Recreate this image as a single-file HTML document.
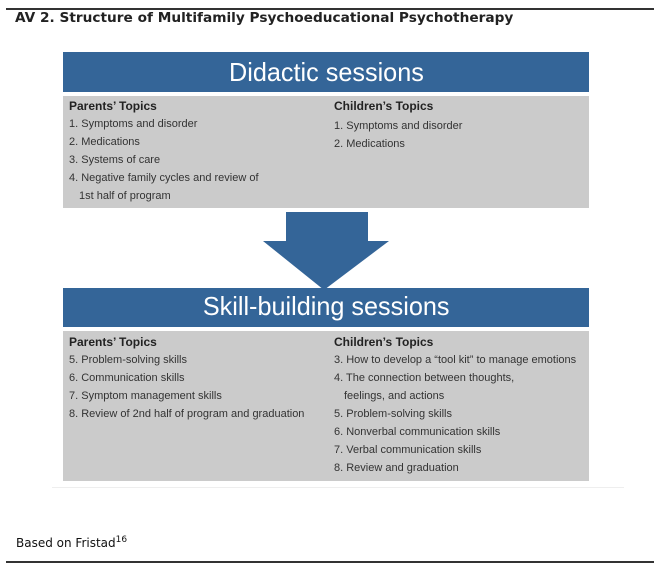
<!DOCTYPE html>
<html><head><meta charset="utf-8"><style>
*{margin:0;padding:0;box-sizing:border-box}
body{width:660px;height:574px;background:#fff;position:relative;overflow:hidden;font-family:"Liberation Sans",sans-serif}
.abs{position:absolute}
.line{position:absolute;left:6px;width:648px;height:2px;background:#333}
.title{left:15px;top:10px;font-family:"DejaVu Sans",sans-serif;font-weight:bold;font-size:13.7px;color:#222;white-space:nowrap}
.hdr{left:63px;width:526px;background:#346598;color:#fff;text-align:center;font-size:26px;white-space:nowrap}
.hdr span{display:inline-block;transform:scaleX(0.97)}
.gray{left:63px;width:526px;background:#cbcbcb}
.col{position:absolute;font-size:11px;color:#333;white-space:nowrap}
.col div{height:18px;line-height:18px}
.col .h{font-weight:bold;font-size:12px;color:#222}
.ind{padding-left:10px}
</style></head><body>
<div class="line" style="top:8px"></div>
<div class="abs title">AV 2. Structure of Multifamily Psychoeducational Psychotherapy</div>

<div class="abs hdr" style="top:52px;height:40px;line-height:40px"><span>Didactic sessions</span></div>
<div class="abs gray" style="top:96px;height:112px"></div>
<div class="col" style="left:69px;top:97px">
<div class="h">Parents’ Topics</div>
<div>1. Symptoms and disorder</div>
<div>2. Medications</div>
<div>3. Systems of care</div>
<div>4. Negative family cycles and review of</div>
<div class="ind">1st half of program</div>
</div>
<div class="col" style="left:334px;top:97px">
<div class="h">Children’s Topics</div>
<div style="margin-top:2px">1. Symptoms and disorder</div>
<div>2. Medications</div>
</div>

<svg class="abs" style="left:0;top:0" width="660" height="574">
<polygon points="286,212 368,212 368,241 389,241 324,290 263,241 286,241" fill="#346598"/>
</svg>

<div class="abs hdr" style="top:288px;height:39px;line-height:37px"><span>Skill-building sessions</span></div>
<div class="abs gray" style="top:331px;height:150px"></div>
<div class="col" style="left:69px;top:333px">
<div class="h">Parents’ Topics</div>
<div>5. Problem-solving skills</div>
<div>6. Communication skills</div>
<div>7. Symptom management skills</div>
<div>8. Review of 2nd half of program and graduation</div>
</div>
<div class="col" style="left:334px;top:333px">
<div class="h">Children’s Topics</div>
<div>3. How to develop a “tool kit” to manage emotions</div>
<div>4. The connection between thoughts,</div>
<div class="ind">feelings, and actions</div>
<div>5. Problem-solving skills</div>
<div>6. Nonverbal communication skills</div>
<div>7. Verbal communication skills</div>
<div>8. Review and graduation</div>
</div>
<div class="abs" style="left:52px;top:487px;width:572px;height:1px;background:#eee"></div>

<div class="abs" style="left:16px;top:535px;font-family:'DejaVu Sans',sans-serif;font-size:12px;color:#111;white-space:nowrap">Based on Fristad<sup style="font-size:9px">16</sup></div>
<div class="line" style="top:561px"></div>
</body></html>
